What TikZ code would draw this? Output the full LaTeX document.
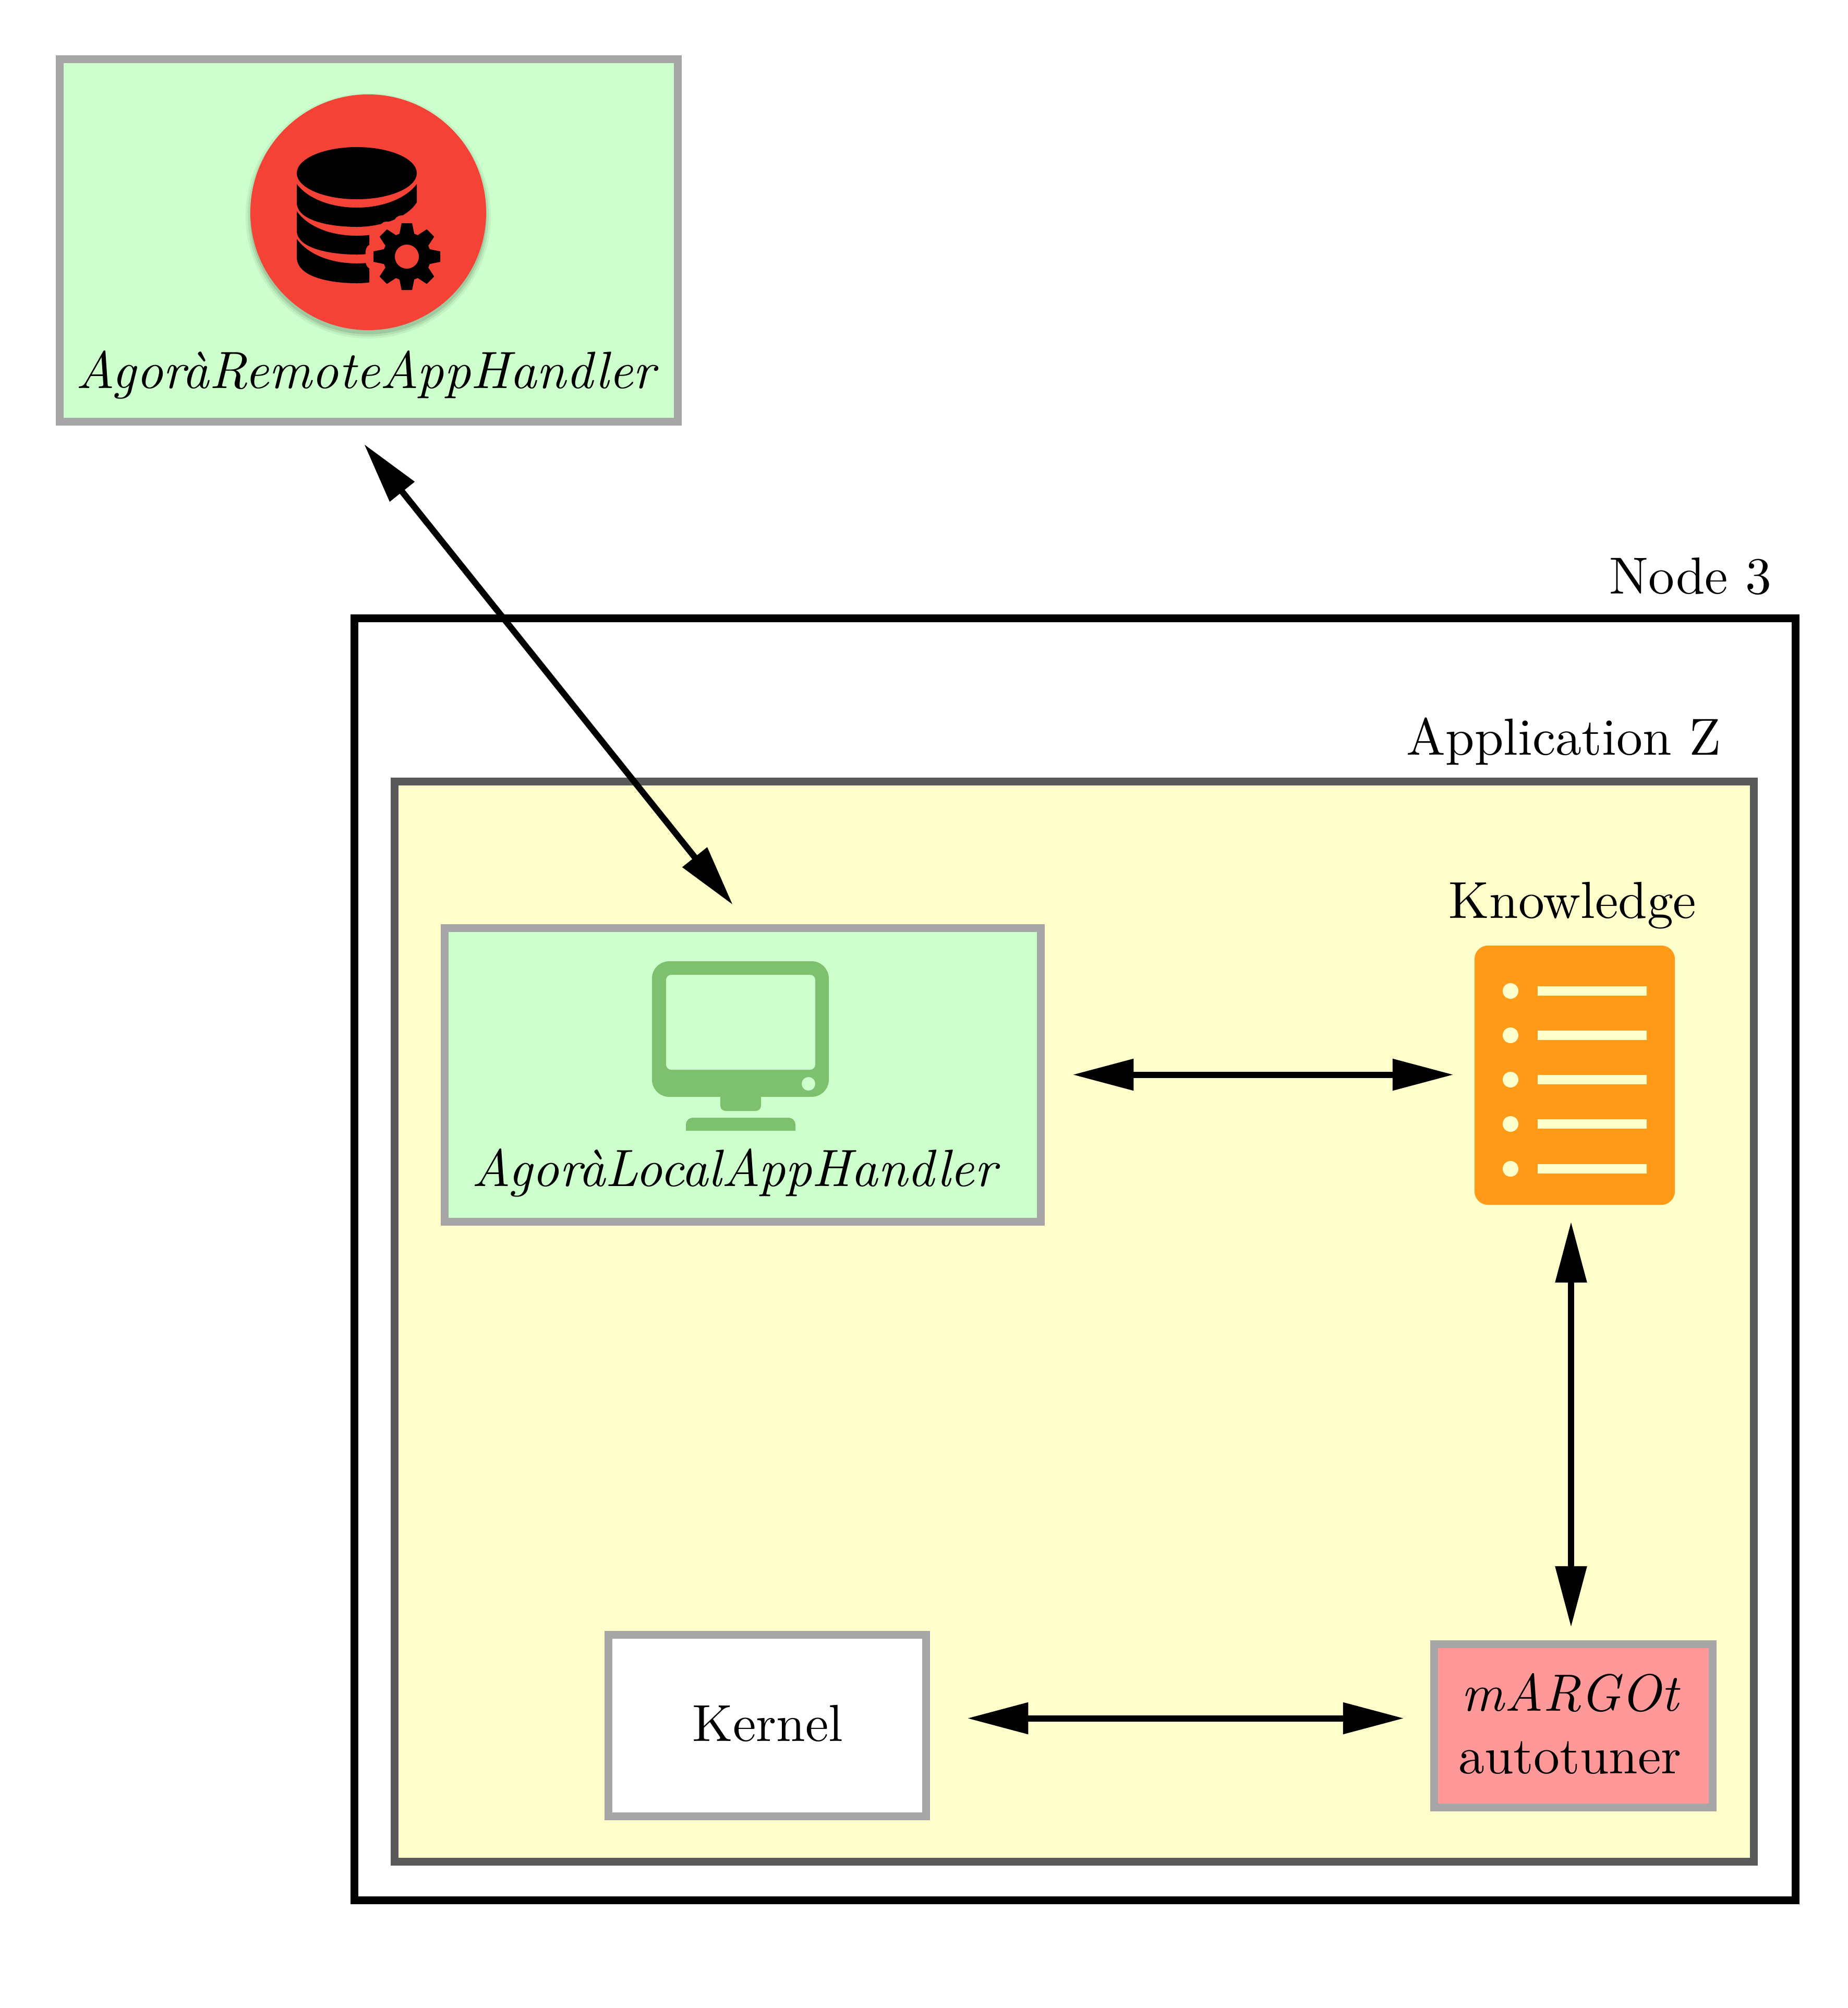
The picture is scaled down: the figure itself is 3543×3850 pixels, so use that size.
\documentclass[tikz,border=0pt]{standalone}
\usetikzlibrary{arrows.meta,calc}
\definecolor{fgreen}{RGB}{204,255,204}
\definecolor{fyellow}{RGB}{255,255,204}
\definecolor{fpink}{RGB}{255,153,153}
\definecolor{gline}{RGB}{166,166,166}
\definecolor{dline}{RGB}{89,89,89}
\definecolor{iconred}{RGB}{244,67,54}
\definecolor{iconorange}{RGB}{255,155,24}
\definecolor{icongreen}{RGB}{125,192,110}
\tikzset{
  px/.style={x=0.01cm,y=-0.01cm},
  box/.style={draw,rectangle,inner sep=0pt,outer sep=0pt,line width=0.15cm},
  greybox/.style={box,draw=gline},
  lbl/.style={scale=2.84,anchor=base,inner sep=0pt,outer sep=0pt},
  itlbl/.style={scale=2.86,anchor=base,inner sep=0pt,outer sep=0pt},
  link/.style={line width=0.12cm,{Triangle[length=1.17cm,width=0.58cm]}-{Triangle[length=1.17cm,width=0.58cm]},shorten <=0pt,shorten >=0pt},
}
\begin{document}
\begin{tikzpicture}[px]
\useasboundingbox (0,0) rectangle (3543,3850);
\fill[white] (0,0) rectangle (3543,3850);

% frames
\node[greybox,fill=fgreen,minimum width=11.85cm,minimum height=6.945cm] (remote) at (707,461) {};
\node[box,draw=black,fill=white,minimum width=27.61cm,minimum height=24.565cm] (node3) at (2061,2414.25) {};
\node[box,draw=dline,fill=fyellow,minimum width=26.04cm,minimum height=20.695cm] (app) at (2059.5,2534.25) {};
\node[greybox,fill=fgreen,minimum width=11.43cm,minimum height=5.63cm] (local) at (1424,2061) {};
\node[greybox,fill=white,minimum width=6.09cm,minimum height=3.48cm] (kernel) at (1471,3308.5) {};
\node[greybox,fill=fpink,minimum width=5.34cm,minimum height=3.13cm] (margot) at (3016.5,3309) {};
\node[fill=iconorange,rectangle,rounded corners=0.26cm,inner sep=0pt,outer sep=0pt,minimum width=3.84cm,minimum height=4.97cm] (doc) at (3019,2061.5) {};

% database icon
\foreach \o/\r in {0.05/235,0.07/231,0.10/227}
  \fill[black,opacity=\o] (706,414) circle[radius=\r];
\fill[iconred] (706,407) circle[radius=226];
\fill (684,332) ellipse[x radius=115,y radius=50];
\fill (569,353) .. controls (592,383) and (638,398) .. (684,398) .. controls (730,398) and (776,383) .. (799,353)
  -- (799,388) .. controls (780,418) and (730,435) .. (684,435) .. controls (638,435) and (569,425) .. (569,388) -- cycle;
\begin{scope}
\clip (560,380) rectangle (708,560);
\fill (569,405) .. controls (592,437) and (638,452) .. (684,452) .. controls (730,452) and (776,437) .. (799,405)
  -- (799,440) .. controls (780,472) and (730,488) .. (684,488) .. controls (638,488) and (569,478) .. (569,442) -- cycle;
\fill (569,458) .. controls (592,490) and (638,505) .. (684,505) .. controls (730,505) and (776,490) .. (799,458)
  -- (799,493) .. controls (780,525) and (730,543) .. (684,543) .. controls (638,543) and (569,533) .. (569,493) -- cycle;
\end{scope}
\begin{scope}[shift={(780,492)}]
  \foreach \a in {0,45,...,315}
    \filldraw[iconred,line width=0.30cm,line join=round,rotate=\a] (-15,-40) -- (-10,-64) -- (10,-64) -- (15,-40) -- cycle;
  \filldraw[iconred,line width=0.30cm] (0,0) circle[radius=44];
  \foreach \a in {0,45,...,315}
    \fill[black,rotate=\a] (-15,-40) -- (-10,-64) -- (10,-64) -- (15,-40) -- cycle;
  \fill[black] (0,0) circle[radius=46];
  \fill[iconred] (0,0) circle[radius=23];
\end{scope}

% monitor icon
\fill[icongreen,rounded corners=0.33cm] (1250,1843) rectangle (1589,2103);
\fill[fgreen,rounded corners=0.10cm] (1277,1869) rectangle (1563,2051);
\fill[fgreen] (1550,2078) circle[radius=13];
\fill[icongreen,rounded corners=0.10cm] (1381,2095) -- (1381,2130) -- (1459,2130) -- (1459,2095) -- cycle;
\fill[icongreen] (1315,2168) -- (1315,2156) .. controls (1315,2149) and (1321,2143) .. (1328,2143) -- (1512,2143) .. controls (1519,2143) and (1525,2149) .. (1525,2156) -- (1525,2168) -- cycle;

% document icon
\foreach \y in {1900,1985,2070,2155,2241} {
  \fill[fyellow] (2896,\y) circle[radius=15];
  \fill[fyellow] (2948,\y-9) rectangle (3157,\y+9);
}

% labels
\node[itlbl] (lremote) at (704,744) {\textit{AgoràRemoteAppHandler}};
\node[lbl] (lnode) at (3241,1138) {Node 3};
\node[lbl] (lapp) at (2998,1447) {Application Z};
\node[lbl] (lknow) at (3015,1760) {Knowledge};
\node[itlbl] (llocal) at (1411,2274) {\textit{AgoràLocalAppHandler}};
\node[lbl] (lkernel) at (1472,3338) {Kernel};
\node[itlbl] (lmargot) at (3012,3280) {\textit{mARGOt}};
\node[lbl] (lauto) at (3010,3400) {autotuner};

% connectors
\draw[link] ($(remote.south)+(-9,43)$) -- ($(local.north)+(-19,-44.5)$);
\draw[link] ($(local.east)+(60.5,-0.5)$) -- ($(doc.west)+(-40,-1)$);
\draw[link] ($(doc.south)+(-7,32)$) -- ($(margot.north)+(-4.5,-32.5)$);
\draw[link] ($(kernel.east)+(78.5,-14)$) -- ($(margot.west)+(-57.5,-14.5)$);
\end{tikzpicture}
\end{document}
